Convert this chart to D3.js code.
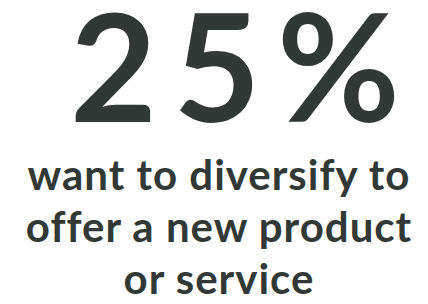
<!doctype html>
<html>
<head>
    <meta charset="utf-8" />
    <title></title>
    <style>
        html, body { margin: 0; padding: 0; background: #fff; }
        svg text { fill: #323835; font-family: Lato, "Open Sans", sans-serif; }
    </style>
</head>
<body>
    <div id="chart"></div>

    <script src="https://cdn.jsdelivr.net/npm/d3@7"></script>
    <script>
        var statValue = [25];
        var statSuffix = ["%"];
        var labelLines = ["want to diversify to", "offer a new product", "or service"];

        var w = 428, h = 304;

        var chart = d3.select("#chart").append("svg")
            .attr("width", w)
            .attr("height", h);

        // big number
        chart.selectAll("text.stat").data(statValue).enter().append("text")
            .attr("class", "stat")
            .attr("x", 70)
            .attr("y", 122)
            .attr("font-size", 150)
            .attr("font-weight", 700)
            .attr("textLength", 330)
            .attr("lengthAdjust", "spacing")
            .text(function(d, i) { return d + statSuffix[i]; });

        // label lines, one baseline per line
        var y = d3.scalePoint().domain(d3.range(labelLines.length)).range([190, 294]);

        chart.selectAll("text.label").data(labelLines).enter().append("text")
            .attr("class", "label")
            .attr("x", 219)
            .attr("y", function(d, i) { return y(i); })
            .attr("text-anchor", "middle")
            .attr("font-size", 42)
            .attr("font-weight", 700)
            .attr("letter-spacing", 1)
            .text(function(d) { return d; });
    </script>
</body>
</html>
